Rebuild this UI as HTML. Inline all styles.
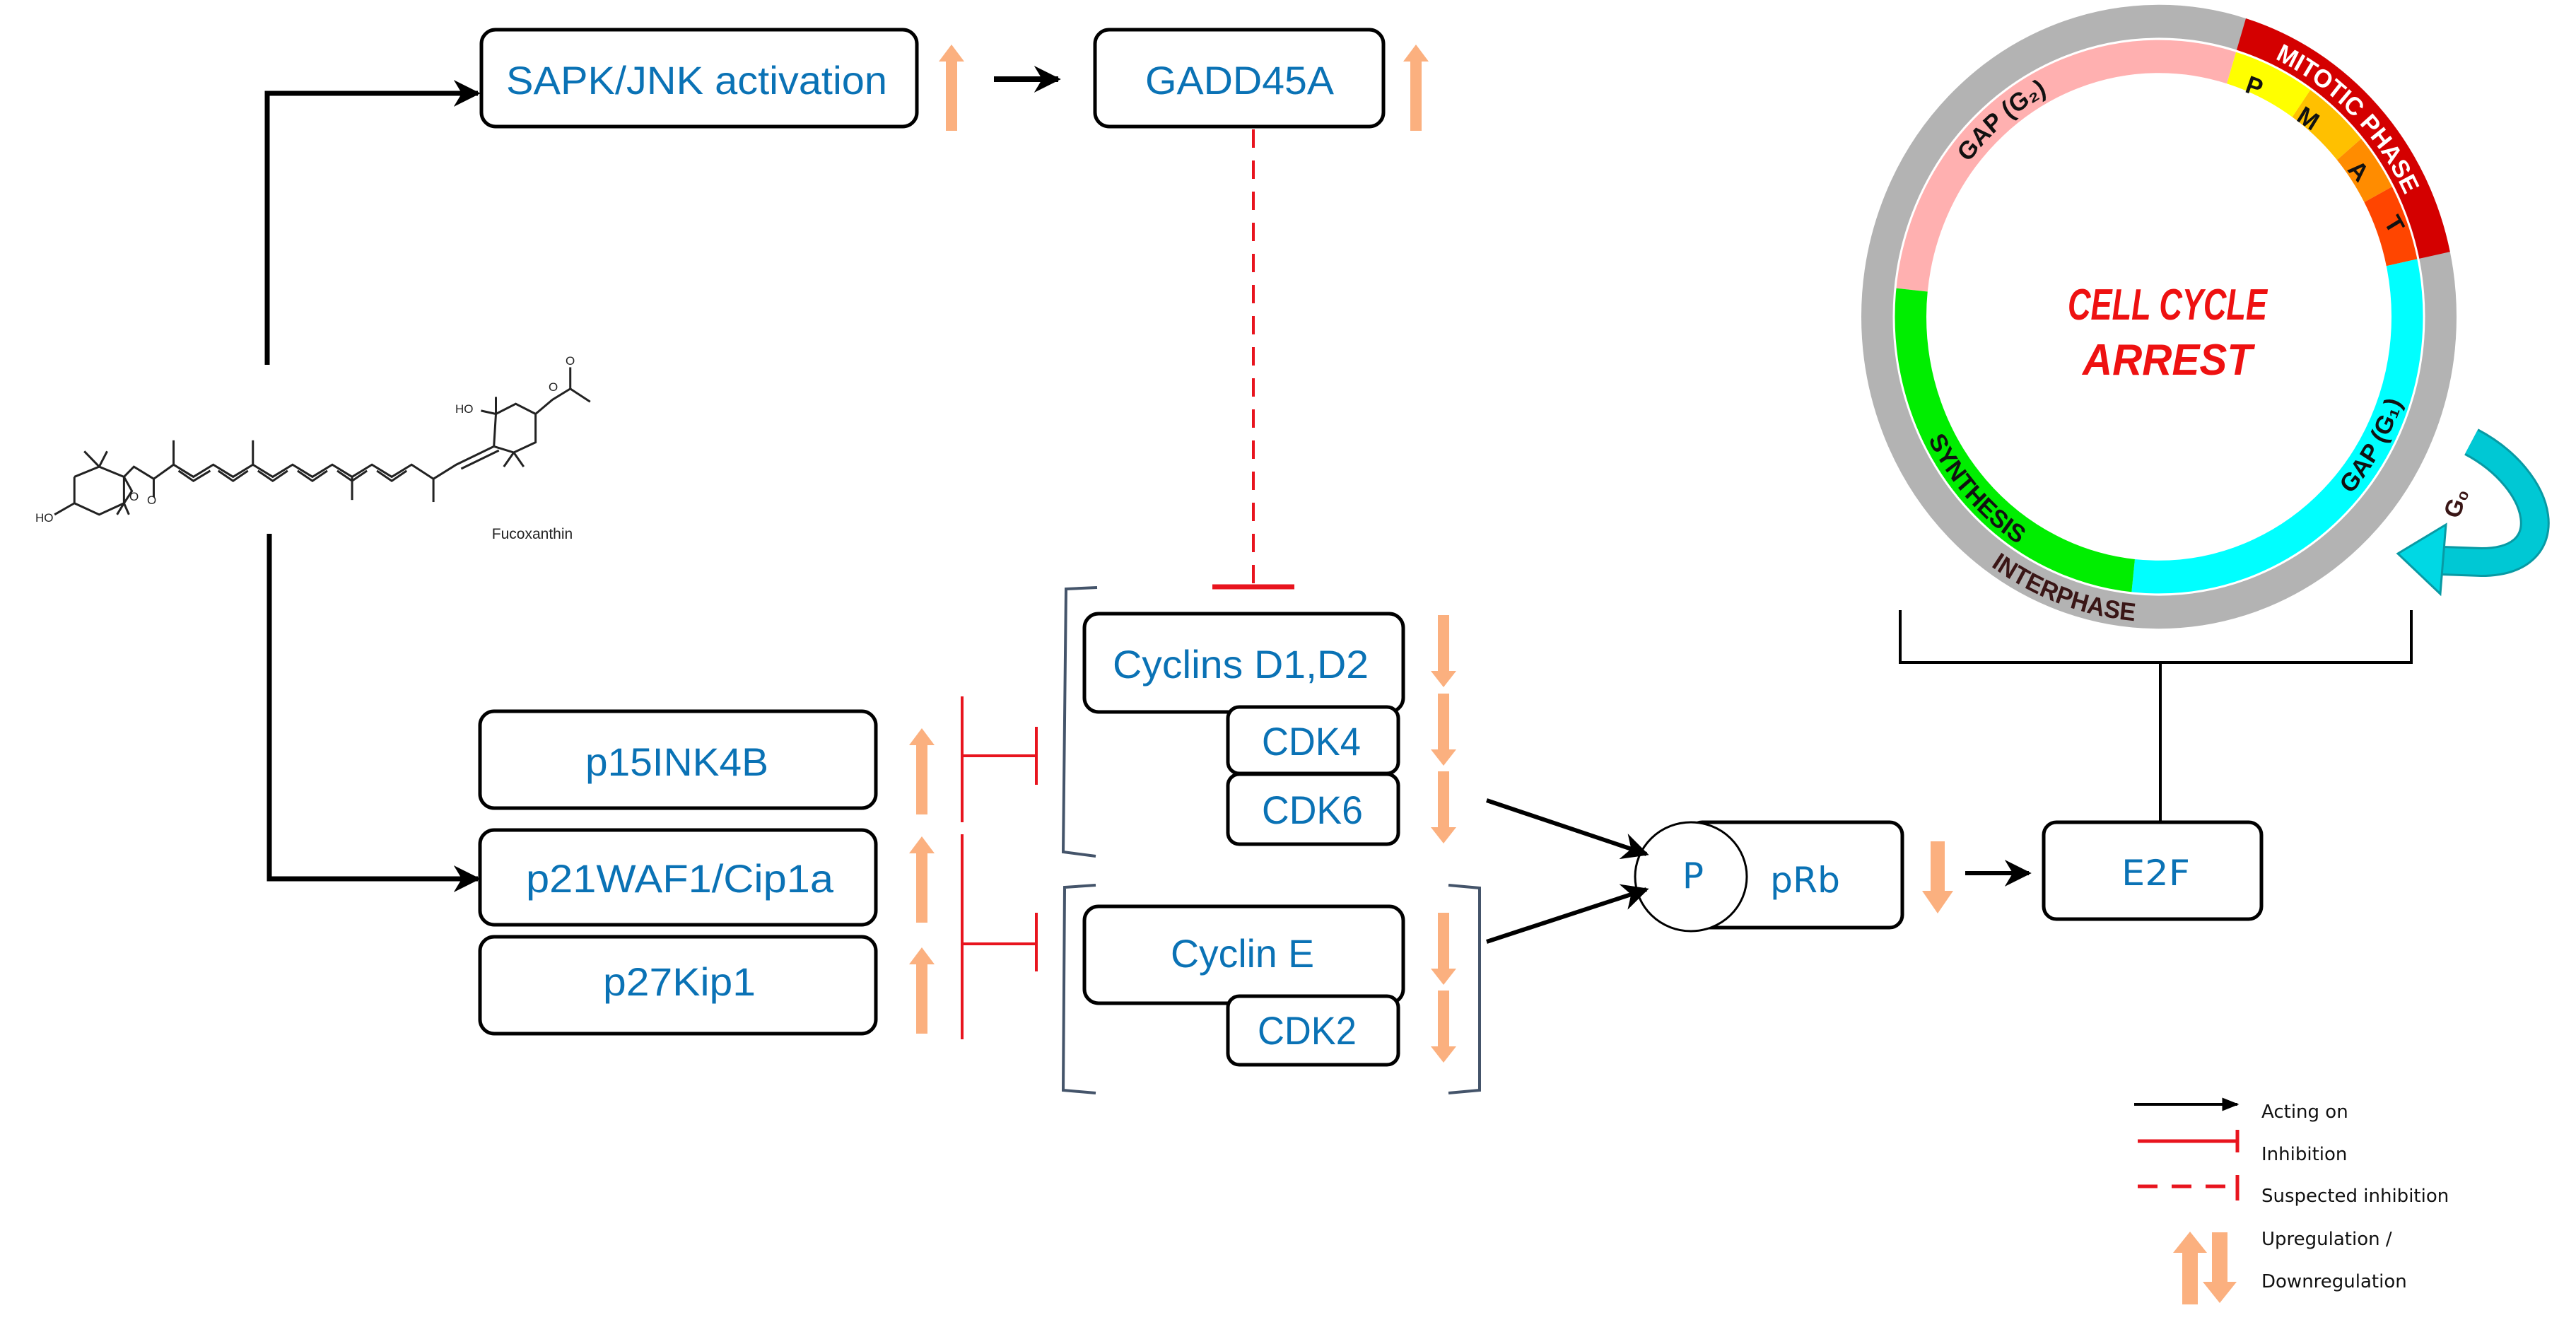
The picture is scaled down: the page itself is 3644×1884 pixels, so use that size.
<!DOCTYPE html>
<html><head><meta charset="utf-8"><style>
html,body{margin:0;padding:0;background:#fff;}
svg{display:block;}
.nt{font-family:"Liberation Sans",sans-serif;fill:#0a72b5;font-size:56px;}
.vt{font-family:"DejaVu Sans","Liberation Sans",sans-serif;fill:#0a72b5;font-size:50px;}
.rg{font-family:"Liberation Sans",sans-serif;font-weight:bold;font-size:34px;}
.lg{font-family:"DejaVu Sans","Liberation Sans",sans-serif;font-size:26px;fill:#111;}
</style></head><body>
<svg width="3644" height="1884" viewBox="0 0 3644 1884" xmlns="http://www.w3.org/2000/svg">
<defs>
<marker id="ah" markerWidth="38" markerHeight="38" refX="9" refY="5" orient="auto" markerUnits="userSpaceOnUse" viewBox="0 0 10 10"><path d="M0,0 L10,5 L0,10 L3,5 Z" fill="#000"/></marker>
<marker id="ahs" markerWidth="24" markerHeight="24" refX="9" refY="5" orient="auto" markerUnits="userSpaceOnUse" viewBox="0 0 10 10"><path d="M0,1 L10,5 L0,9 Z" fill="#000"/></marker>
<g id="up"><rect x="-8" y="0" width="16" height="100" fill="#fbb07f"/><polygon points="-18,2 0,-22 18,2" fill="#fbb07f"/></g>
<path id="pG2" d="M2719,409 A340,340 0 0 1 3054,128"/>
<path id="pMit" d="M3121,89 A385,385 0 0 1 3433,401"/>
<path id="pSyn" d="M2688,468 A366,366 0 0 0 3016,832"/>
<path id="pInt" d="M2697,674 A412,412 0 0 0 3195,855"/>
<path id="pG1" d="M3178,808 A362,362 0 0 0 3411,405"/>
</defs>

<!-- Fucoxanthin connectors -->
<path d="M378,516 L378,132 L676,132" fill="none" stroke="#000" stroke-width="7" marker-end="url(#ah)"/>
<path d="M381,755 L381,1243 L676,1243" fill="none" stroke="#000" stroke-width="7" marker-end="url(#ah)"/>

<!-- Molecule -->
<g transform="scale(1.403,0.574)" fill="none" stroke="#222" stroke-width="3">
<polyline vector-effect="non-scaling-stroke" points="75,1175 100,1150 125,1175 125,1240 100,1268 75,1240 75,1175"/>
<polyline vector-effect="non-scaling-stroke" points="100,1150 85,1112"/>
<polyline vector-effect="non-scaling-stroke" points="100,1150 108,1112"/>
<polyline vector-effect="non-scaling-stroke" points="75,1240 55,1268"/>
<polyline vector-effect="non-scaling-stroke" points="125,1175 133,1210 125,1240"/>
<polyline vector-effect="non-scaling-stroke" points="125,1240 118,1268"/>
<polyline vector-effect="non-scaling-stroke" points="125,1240 130,1268"/>
<polyline vector-effect="non-scaling-stroke" points="125,1175 135,1150 155,1180 175,1145 195,1175 215,1145 235,1175 255,1145 275,1175 295,1145 315,1175 335,1145 355,1175 375,1145 395,1175 415,1145 437,1180 460,1145 498,1100"/>
<polyline vector-effect="non-scaling-stroke" points="180,1160 195,1185 212,1160"/>
<polyline vector-effect="non-scaling-stroke" points="220,1160 235,1185 250,1160"/>
<polyline vector-effect="non-scaling-stroke" points="260,1160 275,1185 290,1160"/>
<polyline vector-effect="non-scaling-stroke" points="300,1160 315,1185 330,1160"/>
<polyline vector-effect="non-scaling-stroke" points="340,1160 355,1185 370,1160"/>
<polyline vector-effect="non-scaling-stroke" points="380,1160 395,1185 410,1160"/>
<polyline vector-effect="non-scaling-stroke" points="465,1155 503,1110"/>
<polyline vector-effect="non-scaling-stroke" points="155,1180 155,1225"/>
<polyline vector-effect="non-scaling-stroke" points="175,1145 175,1085"/>
<polyline vector-effect="non-scaling-stroke" points="255,1145 255,1085"/>
<polyline vector-effect="non-scaling-stroke" points="355,1175 355,1232"/>
<polyline vector-effect="non-scaling-stroke" points="437,1180 437,1237"/>
<polyline vector-effect="non-scaling-stroke" points="498,1100 500,1020 520,995 540,1020 540,1090 518,1115 498,1100"/>
<polyline vector-effect="non-scaling-stroke" points="500,1020 485,1012"/>
<polyline vector-effect="non-scaling-stroke" points="500,1020 500,978"/>
<polyline vector-effect="non-scaling-stroke" points="540,1020 557,985 575,958 595,990"/>
<polyline vector-effect="non-scaling-stroke" points="575,958 575,905"/>
<polyline vector-effect="non-scaling-stroke" points="518,1115 508,1150"/>
<polyline vector-effect="non-scaling-stroke" points="518,1115 528,1150"/>
</g>
<g font-family="Liberation Sans,sans-serif" font-size="17" fill="#222">
<text x="50" y="738">HO</text>
<text x="183" y="708">O</text>
<text x="208" y="713">O</text>
<text x="644" y="584">HO</text>
<text x="776" y="553">O</text>
<text x="800" y="516">O</text>
</g>
<text x="753" y="762" font-family="Liberation Sans,sans-serif" font-size="21" fill="#222" text-anchor="middle">Fucoxanthin</text>

<!-- Nodes -->
<g fill="#fff" stroke="#000" stroke-width="5">
<rect x="681" y="42" width="616" height="137" rx="20"/>
<rect x="1549" y="42" width="408" height="137" rx="20"/>
<rect x="679" y="1006" width="560" height="137" rx="20"/>
<rect x="679" y="1174" width="560" height="134" rx="20"/>
<rect x="679" y="1325" width="560" height="137" rx="20"/>
<rect x="1534" y="868" width="451" height="139" rx="20"/>
<rect x="1737" y="1000" width="241" height="94" rx="16"/>
<rect x="1737" y="1095" width="241" height="99" rx="16"/>
<rect x="1534" y="1282" width="451" height="137" rx="20"/>
<rect x="1737" y="1409" width="241" height="97" rx="16"/>
<rect x="2390" y="1163" width="301" height="149" rx="18"/>
<rect x="2891" y="1163" width="308" height="137" rx="18"/>
</g>
<ellipse cx="2392" cy="1240" rx="79" ry="77" fill="#fff" stroke="#000" stroke-width="3"/>

<text class="nt" x="716" y="133" textLength="539" lengthAdjust="spacingAndGlyphs">SAPK/JNK activation</text>
<text class="nt" x="1620" y="133" textLength="267" lengthAdjust="spacingAndGlyphs">GADD45A</text>
<text class="nt" x="828" y="1097" textLength="259" lengthAdjust="spacingAndGlyphs">p15INK4B</text>
<text class="nt" x="744" y="1262" textLength="435" lengthAdjust="spacingAndGlyphs">p21WAF1/Cip1a</text>
<text class="nt" x="853" y="1408" textLength="216" lengthAdjust="spacingAndGlyphs">p27Kip1</text>
<text class="nt" x="1574" y="959" textLength="362" lengthAdjust="spacingAndGlyphs">Cyclins D1,D2</text>
<text class="nt" x="1785" y="1068" textLength="140" lengthAdjust="spacingAndGlyphs">CDK4</text>
<text class="nt" x="1785" y="1165" textLength="143" lengthAdjust="spacingAndGlyphs">CDK6</text>
<text class="nt" x="1656" y="1368" textLength="203" lengthAdjust="spacingAndGlyphs">Cyclin E</text>
<text class="nt" x="1779" y="1477" textLength="140" lengthAdjust="spacingAndGlyphs">CDK2</text>
<text class="vt" x="2395" y="1256" text-anchor="middle">P</text>
<text class="vt" x="2504" y="1262" textLength="99" lengthAdjust="spacingAndGlyphs">pRb</text>
<text class="vt" x="3001" y="1252" textLength="97" lengthAdjust="spacingAndGlyphs">E2F</text>

<!-- Up/down arrows -->
<use href="#up" x="1346" y="85"/>
<use href="#up" x="2003" y="85"/>
<use href="#up" x="1304" y="1052"/>
<use href="#up" x="1304" y="1205"/>
<use href="#up" x="1304" y="1362"/>
<g transform="translate(2042,870) scale(1,0.85)"><rect x="-8" y="0" width="16" height="95" fill="#fbb07f"/><polygon points="-18,93 0,120 18,93" fill="#fbb07f"/></g>
<g transform="translate(2042,981) scale(1,0.85)"><rect x="-8" y="0" width="16" height="95" fill="#fbb07f"/><polygon points="-18,93 0,120 18,93" fill="#fbb07f"/></g>
<g transform="translate(2042,1091) scale(1,0.85)"><rect x="-8" y="0" width="16" height="95" fill="#fbb07f"/><polygon points="-18,93 0,120 18,93" fill="#fbb07f"/></g>
<g transform="translate(2042,1291) scale(1,0.85)"><rect x="-8" y="0" width="16" height="95" fill="#fbb07f"/><polygon points="-18,93 0,120 18,93" fill="#fbb07f"/></g>
<g transform="translate(2042,1401) scale(1,0.85)"><rect x="-8" y="0" width="16" height="95" fill="#fbb07f"/><polygon points="-18,93 0,120 18,93" fill="#fbb07f"/></g>
<g transform="translate(2741,1190)"><rect x="-10" y="0" width="20" height="72" fill="#fbb07f"/><polygon points="-22,70 0,102 22,70" fill="#fbb07f"/></g>

<!-- Black arrows -->
<line x1="1406" y1="112" x2="1497" y2="112" stroke="#000" stroke-width="8" marker-end="url(#ah)"/>
<line x1="2103" y1="1132" x2="2329" y2="1208" stroke="#000" stroke-width="6" marker-end="url(#ah)"/>
<line x1="2103" y1="1332" x2="2329" y2="1258" stroke="#000" stroke-width="6" marker-end="url(#ah)"/>
<line x1="2780" y1="1235" x2="2870" y2="1235" stroke="#000" stroke-width="6" marker-end="url(#ah)"/>

<!-- Red inhibition -->
<line x1="1773" y1="183" x2="1773" y2="826" stroke="#e8141e" stroke-width="4" stroke-dasharray="26,18"/>
<line x1="1715" y1="830" x2="1831" y2="830" stroke="#e8141e" stroke-width="7"/>
<g stroke="#e8141e" stroke-width="4">
<line x1="1361" y1="985" x2="1361" y2="1163"/>
<line x1="1361" y1="1180" x2="1361" y2="1470"/>
<line x1="1361" y1="1069" x2="1466" y2="1069"/>
<line x1="1466" y1="1028" x2="1466" y2="1110"/>
<line x1="1361" y1="1335" x2="1466" y2="1335"/>
<line x1="1466" y1="1291" x2="1466" y2="1374"/>
</g>

<!-- Brackets -->
<g fill="none" stroke="#44546a" stroke-width="4">
<path d="M1552,831 L1508,833 L1504,1205 L1550,1211"/>
<path d="M1550,1252 L1506,1255 L1504,1542 L1550,1546"/>
<path d="M2049,1252 L2093,1256 L2093,1542 L2049,1546"/>
</g>

<!-- bracket under cycle -->
<path d="M2688,863 L2688,937 L3411,937 L3411,863 M3056,937 L3056,1163" fill="none" stroke="#000" stroke-width="4"/>

<!-- Cell cycle ring (vertically stretched) -->
<g transform="translate(0,448) scale(1,1.048) translate(0,-468)">
<g transform="rotate(-90 3054 468)" fill="none">
<circle cx="3054" cy="468" r="398" stroke="#b3b3b3" stroke-width="46"/>
<circle cx="3054" cy="468" r="398" pathLength="360" stroke="#d40000" stroke-width="46" stroke-dasharray="61 299" stroke-dashoffset="-17"/>
<circle cx="3054" cy="468" r="352" pathLength="360" stroke="#ffb0b0" stroke-width="46" stroke-dasharray="101 259" stroke-dashoffset="84"/>
<circle cx="3054" cy="468" r="352" pathLength="360" stroke="#ffff00" stroke-width="46" stroke-dasharray="18 342" stroke-dashoffset="-17"/>
<circle cx="3054" cy="468" r="352" pathLength="360" stroke="#ffc000" stroke-width="46" stroke-dasharray="15 345" stroke-dashoffset="-35"/>
<circle cx="3054" cy="468" r="352" pathLength="360" stroke="#ff8c00" stroke-width="46" stroke-dasharray="12 348" stroke-dashoffset="-50"/>
<circle cx="3054" cy="468" r="352" pathLength="360" stroke="#ff4500" stroke-width="46" stroke-dasharray="16 344" stroke-dashoffset="-62"/>
<circle cx="3054" cy="468" r="352" pathLength="360" stroke="#00ffff" stroke-width="46" stroke-dasharray="108 252" stroke-dashoffset="-78"/>
<circle cx="3054" cy="468" r="352" pathLength="360" stroke="#00ee00" stroke-width="46" stroke-dasharray="90 270" stroke-dashoffset="-186"/>
<circle cx="3054" cy="468" r="375" stroke="#fff" stroke-width="3"/>
</g>
<text class="rg" fill="#111"><textPath href="#pG2" startOffset="50%" text-anchor="middle">GAP (G₂)</textPath></text>
<text class="rg" fill="#fff" font-size="36"><textPath href="#pMit" startOffset="50%" text-anchor="middle">MITOTIC PHASE</textPath></text>
<text class="rg" fill="#111"><textPath href="#pSyn" startOffset="50%" text-anchor="middle">SYNTHESIS</textPath></text>
<text class="rg" fill="#3a1616"><textPath href="#pInt" startOffset="50%" text-anchor="middle">INTERPHASE</textPath></text>
<text class="rg" fill="#111"><textPath href="#pG1" startOffset="50%" text-anchor="middle">GAP (G₁)</textPath></text>
<g class="rg" fill="#111" font-size="30" text-anchor="middle">
<text transform="translate(3185,168) rotate(20)">P</text>
<text transform="translate(3259,210) rotate(33)">M</text>
<text transform="translate(3328,279) rotate(47)">A</text>
<text transform="translate(3377,349) rotate(60)">T</text>
</g>
</g>
<g font-family="Liberation Sans,sans-serif" font-weight="bold" font-style="italic" fill="#ee1111" text-anchor="middle">
<text x="3066" y="452" font-size="62" textLength="282" lengthAdjust="spacingAndGlyphs">CELL CYCLE</text>
<text x="3066" y="530" font-size="62" textLength="240" lengthAdjust="spacingAndGlyphs">ARREST</text>
</g>

<!-- G0 arrow -->
<path d="M3496,625 C3600,680 3625,795 3510,795 L3455,793" fill="none" stroke="#089aa4" stroke-width="42"/>
<path d="M3496,625 C3600,680 3625,795 3510,795 L3455,793" fill="none" stroke="#00c8d4" stroke-width="36"/>
<polygon points="3392,783 3460,742 3452,840" fill="#00d8e4" stroke="#089aa4" stroke-width="3"/>
<text transform="translate(3478,735) rotate(-70)" class="rg" fill="#3a1616" font-size="32">G₀</text>

<!-- Legend -->
<line x1="3019" y1="1562" x2="3165" y2="1562" stroke="#000" stroke-width="4" marker-end="url(#ahs)"/>
<line x1="3024" y1="1614" x2="3165" y2="1614" stroke="#e8141e" stroke-width="5"/>
<line x1="3165" y1="1598" x2="3165" y2="1630" stroke="#e8141e" stroke-width="5"/>
<line x1="3024" y1="1678" x2="3165" y2="1678" stroke="#e8141e" stroke-width="5" stroke-dasharray="28,20"/>
<line x1="3165" y1="1662" x2="3165" y2="1698" stroke="#e8141e" stroke-width="5"/>
<g transform="translate(3098,1770)"><rect x="-11" y="0" width="22" height="75" fill="#fbb07f"/><polygon points="-24,2 0,-28 24,2" fill="#fbb07f"/></g>
<g transform="translate(3140,1743)"><rect x="-11" y="0" width="22" height="72" fill="#fbb07f"/><polygon points="-24,70 0,100 24,70" fill="#fbb07f"/></g>
<text class="lg" x="3199" y="1581">Acting on</text>
<text class="lg" x="3199" y="1641">Inhibition</text>
<text class="lg" x="3199" y="1700">Suspected inhibition</text>
<text class="lg" x="3199" y="1761">Upregulation /</text>
<text class="lg" x="3199" y="1821">Downregulation</text>
</svg>
</body></html>
